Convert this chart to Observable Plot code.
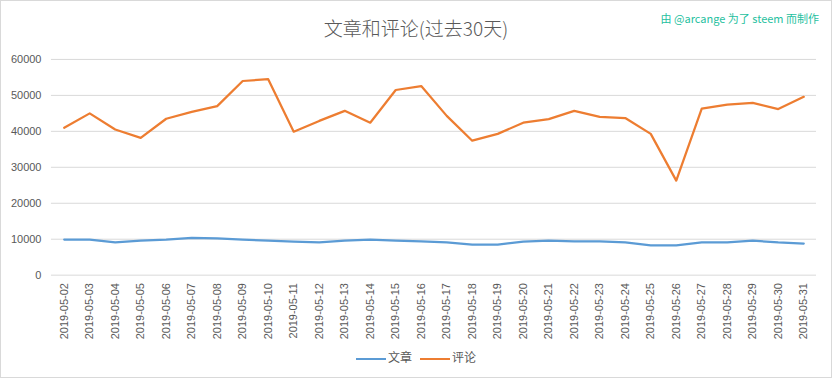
<!DOCTYPE html>
<html>
<head>
<meta charset="utf-8">
<script src="https://cdn.jsdelivr.net/npm/d3@7"></script>
<script src="https://cdn.jsdelivr.net/npm/@observablehq/plot@0.6"></script>
<style>
  html, body { margin: 0; padding: 0; background: #fff; }
  #wrap { position: relative; width: 832px; height: 378px; box-sizing: border-box; border: 1px solid #d9d9d9; background: #fff; overflow: hidden; font-family: "Liberation Sans", "Noto Sans CJK SC", sans-serif; }
  #title { position: absolute; left: 0; width: 830px; top: 14px; text-align: center; font-size: 19px; color: #595959; font-family: "Noto Sans CJK SC", sans-serif; font-weight: 300; line-height: 26px; }
  #credit { position: absolute; right: 12px; top: 8px; font-size: 11px; color: #1fbfa0; font-family: "Noto Sans CJK SC", sans-serif; line-height: 18px; }
  #chart { position: absolute; left: -1px; top: -1px; }
  #legend { position: absolute; left: 0; width: 830px; top: 347px; text-align: center; font-size: 12px; color: #595959; font-family: "Noto Sans CJK SC", sans-serif; line-height: 18px; }
  .sw { display: inline-block; width: 30px; height: 0; border-top: 2.5px solid; vertical-align: middle; margin-right: 2px; }
  .item { display: inline-block; margin: 0 4px; }
</style>
</head>
<body>
<div id="wrap">
  <div id="chart"></div>
  <div id="title">文章和评论(过去30天)</div>
  <div id="credit">由 @arcange 为了 steem 而制作</div>
  <div id="legend"></div>
</div>
<script>
const dates = ["2019-05-02","2019-05-03","2019-05-04","2019-05-05","2019-05-06","2019-05-07","2019-05-08","2019-05-09","2019-05-10","2019-05-11","2019-05-12","2019-05-13","2019-05-14","2019-05-15","2019-05-16","2019-05-17","2019-05-18","2019-05-19","2019-05-20","2019-05-21","2019-05-22","2019-05-23","2019-05-24","2019-05-25","2019-05-26","2019-05-27","2019-05-28","2019-05-29","2019-05-30","2019-05-31"];
const posts = [9900,9900,9100,9600,9900,10400,10200,9900,9600,9300,9100,9600,9900,9600,9400,9100,8500,8500,9300,9600,9400,9400,9100,8300,8300,9100,9100,9600,9100,8800];
const comments = [41000,45000,40500,38200,43500,45400,47000,54000,54500,39900,42900,45700,42400,51500,52600,44300,37400,39300,42400,43400,45700,44000,43700,39300,26300,46300,47400,47900,46200,49600];
const seriesNames = ["文章", "评论"];
const seriesColors = ["#5b9bd5", "#ed7d31"];
const yTicks = [0,10000,20000,30000,40000,50000,60000];

const data = [];
dates.forEach((d, i) => {
  data.push({date: d, value: posts[i], series: seriesNames[0]});
  data.push({date: d, value: comments[i], series: seriesNames[1]});
});

const chart = Plot.plot({
  width: 832,
  height: 345,
  marginTop: 59,
  marginBottom: 70,
  marginLeft: 51,
  marginRight: 15,
  style: { fontFamily: "'Liberation Sans', sans-serif", fontSize: "11px", color: "#595959", background: "transparent" },
  x: { type: "point", domain: dates, padding: 0.5, round: false, label: null },
  y: { domain: [0, 60000], label: null },
  color: { domain: seriesNames, range: seriesColors },
  marks: [
    Plot.gridY(yTicks, { stroke: "#d9d9d9", strokeOpacity: 1, strokeWidth: 1 }),
    Plot.axisY(yTicks, { tickSize: 0, tickPadding: 10, tickFormat: d3.format("d"), label: null, fill: "#595959" }),
    Plot.axisX({ tickSize: 0, tickPadding: 8, tickRotate: -90, label: null, fill: "#595959" }),
    Plot.line(data, { x: "date", y: "value", z: "series", stroke: "series", strokeWidth: 2.25, strokeLinejoin: "round", strokeLinecap: "round" })
  ]
});
document.getElementById("chart").appendChild(chart);

const legend = document.getElementById("legend");
seriesNames.forEach((n, i) => {
  const span = document.createElement("span");
  span.className = "item";
  const sw = document.createElement("span");
  sw.className = "sw";
  sw.style.borderTopColor = seriesColors[i];
  span.appendChild(sw);
  span.appendChild(document.createTextNode(n));
  legend.appendChild(span);
});
</script>
</body>
</html>
